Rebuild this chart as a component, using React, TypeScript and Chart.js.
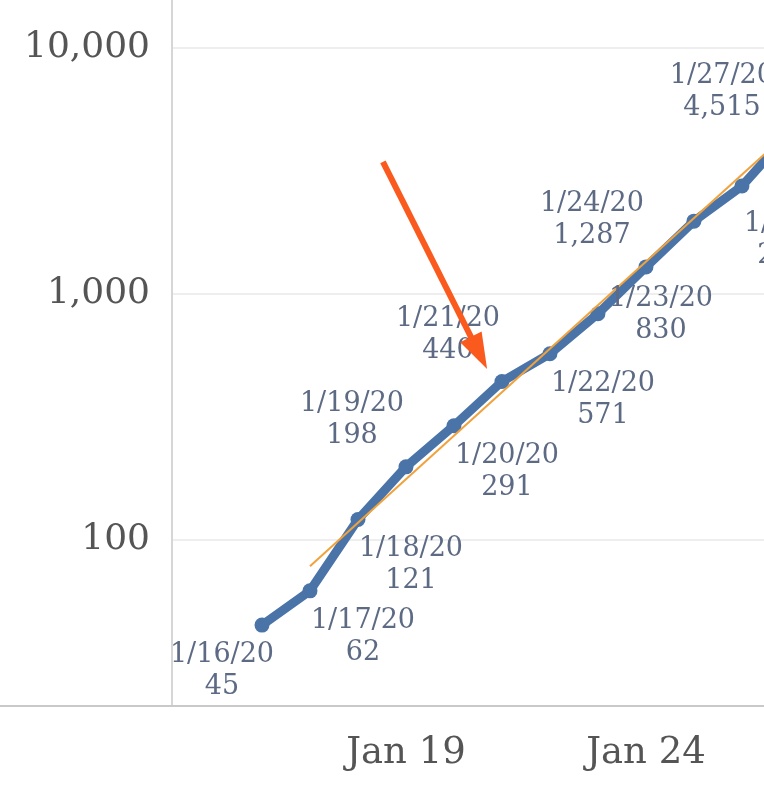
import React, { useEffect, useRef } from 'react';
import { Chart, registerables } from 'chart.js';

Chart.register(...registerables);

// ---- Data ----
const dateLabels = ['1/16/20', '1/17/20', '1/18/20', '1/19/20', '1/20/20', '1/21/20', '1/22/20', '1/23/20', '1/24/20', '1/25/20', '1/26/20', '1/27/20'];
const januaryDays = [16, 17, 18, 19, 20, 21, 22, 23, 24, 25, 26, 27];
const confirmedCases = [45, 62, 121, 198, 291, 440, 571, 830, 1287, 1975, 2744, 4515];
// label placement around each point ('none' = label hidden)
const labelPlacement = ['bl', 'br', 'br', 'al', 'br', 'al', 'br', 'r', 'al', 'none', 'brLow', 'alFar'];

// exponential trend line end points
const trendDays = [17, 27];
const trendValues = [78, 4590];

// axis ticks and visible ranges
const xTickDays = [19, 24];
const yTickValues = [100, 1000, 10000];
const xRange = [14.125, 26.46];
const yRange = [21.1, 15660];

// annotation arrow (data coordinates: day, cases)
const arrowFrom = { x: 18.52, y: 3440 };
const arrowTo = { x: 20.69, y: 495 };

// ---- Styles ----
const FONT = '"DejaVu Serif", Georgia, serif';
const BLUE = '#4a74a8';
const ORANGE_TREND = '#f0a23c';
const ARROW = '#fa5a1e';
const LABEL_COLOR = '#5d6a84';
const AXIS_TEXT = '#555555';

const placementOffsets: Record<string, { dx: number; dy: number }> = {
  bl: { dx: -40, dy: 30 },
  br: { dx: 53, dy: 30 },
  brLow: { dx: 54, dy: 38 },
  al: { dx: -54, dy: -63 },
  alFar: { dx: -68, dy: -57 },
  r: { dx: 63, dy: -15 },
};

const pointLabelsPlugin = {
  id: 'pointLabels',
  afterDatasetsDraw(chart: any) {
    const meta = chart.getDatasetMeta(0);
    const ctx = chart.ctx;
    ctx.save();
    ctx.font = `27px ${FONT}`;
    ctx.fillStyle = LABEL_COLOR;
    ctx.textAlign = 'center';
    ctx.textBaseline = 'middle';
    meta.data.forEach((pt: any, i: number) => {
      const off = placementOffsets[labelPlacement[i]];
      if (!off) return;
      const x = pt.x + off.dx;
      const y = pt.y + off.dy;
      ctx.fillText(dateLabels[i], x, y);
      ctx.fillText(confirmedCases[i].toLocaleString('en-US'), x, y + 32);
    });
    ctx.restore();
  },
};

const axisLinePlugin = {
  id: 'axisLine',
  afterDraw(chart: any) {
    const ctx = chart.ctx;
    const { bottom } = chart.chartArea;
    ctx.save();
    ctx.strokeStyle = '#c9c9c9';
    ctx.lineWidth = 2;
    ctx.beginPath();
    ctx.moveTo(0, bottom);
    ctx.lineTo(chart.width, bottom);
    ctx.stroke();
    ctx.restore();
  },
};

const arrowPlugin = {
  id: 'arrow',
  afterDraw(chart: any) {
    const xs = chart.scales.x;
    const ys = chart.scales.y;
    const x1 = xs.getPixelForValue(arrowFrom.x);
    const y1 = ys.getPixelForValue(arrowFrom.y);
    const x2 = xs.getPixelForValue(arrowTo.x);
    const y2 = ys.getPixelForValue(arrowTo.y);
    const ang = Math.atan2(y2 - y1, x2 - x1);
    const headLen = 36;
    const headHalf = 12;
    const bx = x2 - headLen * Math.cos(ang);
    const by = y2 - headLen * Math.sin(ang);
    const ctx = chart.ctx;
    ctx.save();
    ctx.strokeStyle = ARROW;
    ctx.fillStyle = ARROW;
    ctx.lineWidth = 6;
    ctx.beginPath();
    ctx.moveTo(x1, y1);
    ctx.lineTo(bx + 4 * Math.cos(ang), by + 4 * Math.sin(ang));
    ctx.stroke();
    ctx.beginPath();
    ctx.moveTo(x2, y2);
    ctx.lineTo(bx + headHalf * Math.sin(ang), by - headHalf * Math.cos(ang));
    ctx.lineTo(bx - headHalf * Math.sin(ang), by + headHalf * Math.cos(ang));
    ctx.closePath();
    ctx.fill();
    ctx.restore();
  },
};

export default function App() {
  const canvasRef = useRef<HTMLCanvasElement | null>(null);

  useEffect(() => {
    if (!canvasRef.current) return;
    const chart = new Chart(canvasRef.current, {
      type: 'line',
      data: {
        datasets: [
          {
            label: 'Confirmed cases',
            data: januaryDays.map((d, i) => ({ x: d, y: confirmedCases[i] })),
            borderColor: BLUE,
            backgroundColor: BLUE,
            borderWidth: 9,
            pointRadius: 7.5,
            pointBorderWidth: 0,
            pointBackgroundColor: BLUE,
            tension: 0,
            order: 1,
          },
          {
            label: 'Trend',
            data: trendDays.map((d, i) => ({ x: d, y: trendValues[i] })),
            borderColor: ORANGE_TREND,
            borderWidth: 2,
            pointRadius: 0,
            tension: 0,
            order: 0,
          },
        ],
      },
      options: {
        animation: false,
        responsive: false,
        layout: { padding: 0, autoPadding: false },
        plugins: {
          legend: { display: false },
          tooltip: { enabled: false },
          title: { display: false },
        },
        scales: {
          x: {
            type: 'linear',
            min: xRange[0],
            max: xRange[1],
            bounds: 'data',
            afterFit: (s: any) => {
              s.height = 105;
              s.paddingLeft = 0;
              s.paddingRight = 0;
              s.paddingTop = 0;
              s.paddingBottom = 0;
            },
            afterBuildTicks: (s: any) => {
              s.ticks = xTickDays.map((v) => ({ value: v }));
            },
            grid: { display: false, drawTicks: false },
            border: { display: false },
            ticks: {
              padding: 25,
              color: AXIS_TEXT,
              font: { family: FONT, size: 37 },
              maxRotation: 0,
              autoSkip: false,
              callback: (v: any) => 'Jan ' + v,
            },
          },
          y: {
            type: 'logarithmic',
            min: yRange[0],
            max: yRange[1],
            bounds: 'data',
            afterFit: (s: any) => {
              s.width = 172;
              s.paddingLeft = 0;
              s.paddingRight = 0;
              s.paddingTop = 0;
              s.paddingBottom = 0;
            },
            afterBuildTicks: (s: any) => {
              s.ticks = yTickValues.map((v) => ({ value: v, major: false }));
            },
            grid: { color: '#eeeeee', lineWidth: 2, drawTicks: false },
            border: { display: true, color: '#d6d6d6', width: 2 },
            ticks: {
              padding: 22,
              color: AXIS_TEXT,
              font: { family: FONT, size: 36 },
              autoSkip: false,
              callback: (v: any) => Number(v).toLocaleString('en-US'),
            },
          },
        },
      },
      plugins: [axisLinePlugin, pointLabelsPlugin, arrowPlugin],
    });
    return () => chart.destroy();
  }, []);

  return (
    <div style={{ position: 'absolute', left: 0, top: 0, width: 764, height: 811, background: '#ffffff' }}>
      <canvas ref={canvasRef} width={764} height={811} style={{ display: 'block' }} />
    </div>
  );
}
